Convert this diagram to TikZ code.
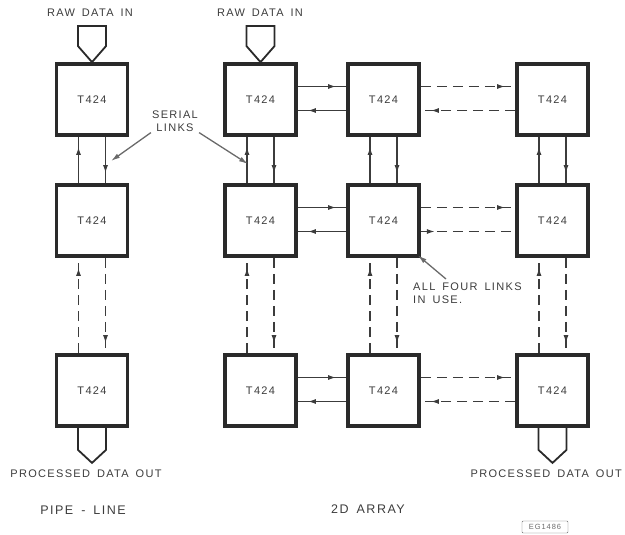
\documentclass[tikz,border=0pt]{standalone}
\usepackage{fontspec}
\setmainfont{Liberation Sans}[LetterSpace=12, WordSpace=1.6]
\usetikzlibrary{arrows.meta,decorations.markings}

\definecolor{inkDark}{HTML}{2A2A2A}
\definecolor{inkLink}{HTML}{3C3C3C}
\definecolor{inkNote}{HTML}{6A6A6A}

\tikzset{
  proc/.style={draw=inkDark, line width=3.8pt, minimum size=71pt, inner sep=0pt,
    font=\fontsize{11}{12}\selectfont, text=inkLink},
  lbl/.style={font=\fontsize{11}{13}\selectfont, text=inkLink, inner sep=1pt},
  link/.style={draw=inkLink, line width=1.4pt, postaction={decorate},
    decoration={markings, mark=at position -10pt with {\arrow{Latex[length=8pt,width=5pt]}}}},
  dlink/.style={link, dash pattern=on 10pt off 6pt},
  dlinkout/.style={draw=inkLink, line width=1.4pt, dash pattern=on 10pt off 6pt, postaction={decorate},
    decoration={markings, mark=at position 14pt with {\arrow{Latex[length=8pt,width=5pt]}}}},
  funnel/.style={draw=inkDark, line width=1.8pt, line join=miter},
  pointer/.style={draw=inkNote, line width=1.3pt, -{Latex[length=9pt,width=5pt]}}
}

\begin{document}
\begin{tikzpicture}[x=1pt, y=-1pt]
  \useasboundingbox (0,0) rectangle (625,535);

  % Pipe-line column
  \node[proc] (p1) at (92,99.5) {T424};
  \node[proc] (p2) at (92,220.5) {T424};
  \node[proc] (p3) at (92,390.5) {T424};

  % 2D array
  \foreach \r/\y in {1/99.5, 2/220.5, 3/390.5} {
    \foreach \c/\x in {1/260.5, 2/383.5, 3/552.5} {
      \node[proc] (a\r\c) at (\x,\y) {T424};
    }
  }

  % Data in / out
  \node[lbl] (rawp) at (90,13) {RAW DATA IN};
  \node[lbl] (rawa) at (260,13) {RAW DATA IN};
  \draw[funnel] (p1.north) -- ++(-14,-16) -- ++(0,-20) -- ++(28,0) -- ++(0,20) -- cycle;
  \draw[funnel] (a11.north) -- ++(-14,-16) -- ++(0,-20) -- ++(28,0) -- ++(0,20) -- cycle;
  \draw[funnel] ([xshift=-14pt]p3.south) -- ++(0,22) -- ++(14,13) -- ++(14,-13) -- ++(0,-22);
  \draw[funnel] ([xshift=-14pt]a33.south) -- ++(0,22) -- ++(14,13) -- ++(14,-13) -- ++(0,-22);
  \node[lbl] (outp) at (86,474) {PROCESSED DATA OUT};
  \node[lbl, anchor=east] (outa) at (623,474) {PROCESSED DATA OUT};

  % Pipe-line links
  \draw[link] ([xshift=-13.5pt]p2.north) -- ([xshift=-13.5pt]p1.south);
  \draw[link] ([xshift=13.5pt]p1.south) -- ([xshift=13.5pt]p2.north);
  \draw[dlink] ([xshift=-13.5pt]p3.north) -- ([xshift=-13.5pt]p2.south);
  \draw[dlink] ([xshift=13.5pt]p2.south) -- ([xshift=13.5pt]p3.north);

  % Array links, vertical
  \foreach \c in {1,2,3} {
    \draw[link] ([xshift=-13.5pt]a2\c.north) -- ([xshift=-13.5pt]a1\c.south);
    \draw[link] ([xshift=13.5pt]a1\c.south) -- ([xshift=13.5pt]a2\c.north);
    \draw[dlink] ([xshift=-13.5pt]a3\c.north) -- ([xshift=-13.5pt]a2\c.south);
    \draw[dlink] ([xshift=13.5pt]a2\c.south) -- ([xshift=13.5pt]a3\c.north);
  }
  % Array links, horizontal
  \foreach \r in {1,2,3} {
    \draw[link] ([yshift=13pt]a\r1.east) -- ([yshift=13pt]a\r2.west);
    \draw[link] ([yshift=-11pt]a\r2.west) -- ([yshift=-11pt]a\r1.east);
    \draw[dlink] ([yshift=13pt]a\r2.east) -- ([yshift=13pt]a\r3.west);
  }
  \draw[dlink] ([yshift=-11pt]a13.west) -- ([yshift=-11pt]a12.east);
  \draw[dlinkout] ([yshift=-11pt]a22.east) -- ([yshift=-11pt]a23.west);
  \draw[dlink] ([yshift=-11pt]a33.west) -- ([yshift=-11pt]a32.east);

  % Notes
  \node[lbl, align=center] (serial) at (175,121) {SERIAL\\LINKS};
  \coordinate (sl1) at (111,161);
  \coordinate (sl2) at (248,164);
  \draw[pointer] (serial.south west) -- (sl1);
  \draw[pointer] (serial.south east) -- (sl2);
  \node[lbl, align=left, anchor=north west] (allfour) at (412,282) {ALL FOUR LINKS\\IN USE.};
  \draw[pointer, shorten >=-4pt] ([xshift=34pt,yshift=3pt]allfour.north west) -- (a22.south east);

  \node[lbl, font=\fontsize{12.5}{14}\selectfont] (pipe) at (83,510) {PIPE - LINE};
  \node[lbl, font=\fontsize{12.5}{14}\selectfont] (arr) at (368,509) {2D ARRAY};
  \node[draw=inkNote, rounded corners=1pt, font=\fontsize{7.5}{8}\selectfont, text=inkNote,
    minimum width=46pt, minimum height=12pt, inner sep=1pt] (ref) at (545,527) {EG1486};
\end{tikzpicture}
\end{document}
